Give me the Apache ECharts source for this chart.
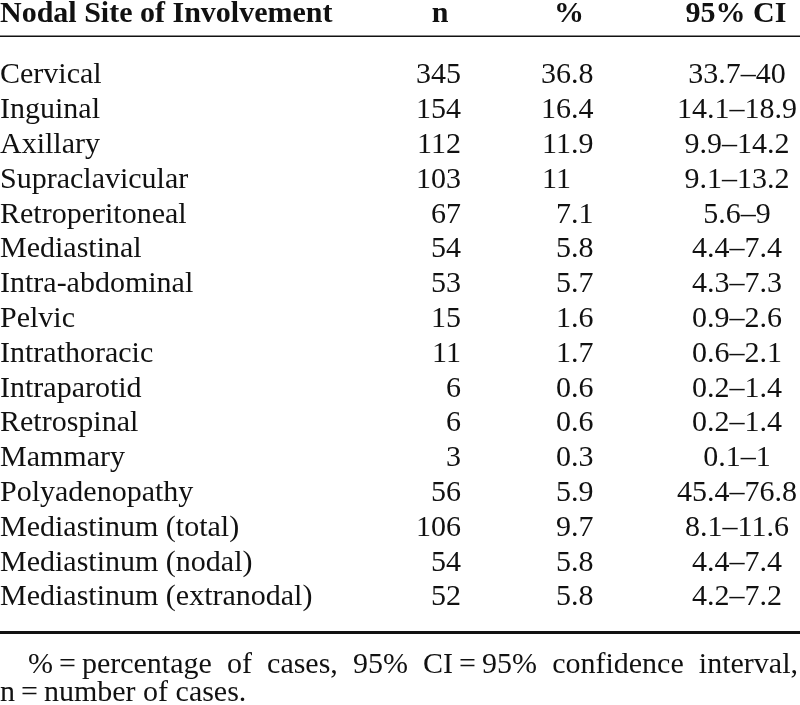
<!DOCTYPE html>
<html>
<head>
<meta charset="utf-8">
<script src="https://cdn.jsdelivr.net/npm/echarts@6/dist/echarts.min.js"></script>
<style>
  html, body { margin: 0; padding: 0; background: #ffffff; }
  #chart { width: 800px; height: 705px; }
</style>
</head>
<body>
<div id="chart"></div>
<script>
// ---- Data ----
const columnHeaders = ['Nodal Site of Involvement', 'n', '%', '95% CI'];
const sites = ['Cervical', 'Inguinal', 'Axillary', 'Supraclavicular', 'Retroperitoneal',
  'Mediastinal', 'Intra-abdominal', 'Pelvic', 'Intrathoracic', 'Intraparotid',
  'Retrospinal', 'Mammary', 'Polyadenopathy', 'Mediastinum (total)',
  'Mediastinum (nodal)', 'Mediastinum (extranodal)'];
const nCases = [345, 154, 112, 103, 67, 54, 53, 15, 11, 6, 6, 3, 56, 106, 54, 52];
const pctCases = [36.8, 16.4, 11.9, 11, 7.1, 5.8, 5.7, 1.6, 1.7, 0.6, 0.6, 0.3, 5.9, 9.7, 5.8, 5.8];
const ciLow = [33.7, 14.1, 9.9, 9.1, 5.6, 4.4, 4.3, 0.9, 0.6, 0.2, 0.2, 0.1, 45.4, 8.1, 4.4, 4.2];
const ciHigh = [40, 18.9, 14.2, 13.2, 9, 7.4, 7.3, 2.6, 2.1, 1.4, 1.4, 1, 76.8, 11.6, 7.4, 7.2];
const footnoteLine1 = ['%\u2009=\u2009percentage', 'of', 'cases,', '95%', 'CI\u2009=\u200995%', 'confidence', 'interval,'];
const footnoteLine2 = 'n\u2009=\u2009number of cases.';

// ---- Layout ----
const FONT_FAMILY = '"Liberation Serif", "Times New Roman", serif';
const FONT_SIZE = 30;
const BODY_FONT = FONT_SIZE + 'px ' + FONT_FAMILY;
const HEAD_FONT = 'bold ' + FONT_SIZE + 'px ' + FONT_FAMILY;
const INK = '#111111';
const COL_SITE_LEFT = 0;
const COL_N_RIGHT = 461;
const COL_PCT_DEC = 571;
const COL_CI_CENTER = 737;
const HEAD_X = [0, 440, 569, 736];
const HEAD_ALIGN = ['left', 'center', 'center', 'center'];

const chart = echarts.init(document.getElementById('chart'), null, { renderer: 'canvas' });

function txt(x, y, text, align, font) {
  return {
    type: 'text', x: x, y: y,
    style: {
      text: text, font: font || BODY_FONT, fill: INK,
      align: align, textAlign: align,
      verticalAlign: 'middle', textVerticalAlign: 'middle'
    }
  };
}

function renderRow(params, api) {
  const row = api.value(0);
  const y = api.coord([0, row])[1];
  const xOf = v => api.coord([v, row])[0];
  const pctStr = String(api.value(2));
  const parts = pctStr.split('.');
  const children = [
    txt(xOf(COL_SITE_LEFT), y, sites[row], 'left'),
    txt(xOf(COL_N_RIGHT), y, String(api.value(1)), 'right'),
    txt(xOf(COL_PCT_DEC), y, parts[0], 'right'),
    txt(xOf(COL_CI_CENTER), y, String(api.value(3)) + '\u2013' + String(api.value(4)), 'center')
  ];
  if (parts.length > 1) children.push(txt(xOf(COL_PCT_DEC), y, '.' + parts[1], 'left'));
  return { type: 'group', children: children };
}

// Justified footnote line
const measureCtx = document.createElement('canvas').getContext('2d');
measureCtx.font = BODY_FONT;
function justified(words, left, right, y) {
  const widths = words.map(w => measureCtx.measureText(w).width);
  const total = widths.reduce((a, b) => a + b, 0);
  const gap = (right - left - total) / (words.length - 1);
  let x = left;
  return words.map((w, i) => {
    const el = {
      type: 'text', x: x, y: y,
      style: { text: w, font: BODY_FONT, fill: INK, textAlign: 'left', textVerticalAlign: 'middle', align: 'left', verticalAlign: 'middle' }
    };
    x += widths[i] + gap;
    return el;
  });
}

const graphics = [];
columnHeaders.forEach((h, i) => {
  graphics.push({
    type: 'text', x: HEAD_X[i], y: 14,
    style: { text: h, font: HEAD_FONT, fill: INK, textAlign: HEAD_ALIGN[i], align: HEAD_ALIGN[i], textVerticalAlign: 'middle', verticalAlign: 'middle' }
  });
});
graphics.push({ type: 'rect', shape: { x: 0, y: 35.5, width: 800, height: 1.6 }, style: { fill: INK } });
graphics.push({ type: 'rect', shape: { x: 0, y: 631, width: 800, height: 3 }, style: { fill: INK } });
justified(footnoteLine1, 28, 798, 665).forEach(g => graphics.push(g));
graphics.push({
  type: 'text', x: 0, y: 693,
  style: { text: footnoteLine2, font: BODY_FONT, fill: INK, textAlign: 'left', align: 'left', textVerticalAlign: 'middle', verticalAlign: 'middle' }
});

const option = {
  backgroundColor: '#ffffff',
  animation: false,
  grid: { left: 0, right: 0, top: 58.1, bottom: 90.1 },
  xAxis: { type: 'value', min: 0, max: 800, show: false },
  yAxis: { type: 'category', data: sites, inverse: true, show: false },
  graphic: graphics,
  series: [{
    type: 'custom',
    silent: true,
    clip: false,
    encode: { x: 1, y: 0 },
    data: sites.map((s, i) => [i, nCases[i], pctCases[i], ciLow[i], ciHigh[i]]),
    renderItem: renderRow
  }]
};
chart.setOption(option);
</script>
</body>
</html>
